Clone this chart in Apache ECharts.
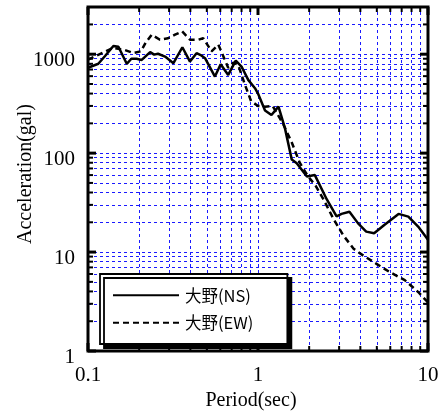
<!DOCTYPE html>
<html>
<head>
<meta charset="utf-8">
<script src="https://cdn.jsdelivr.net/npm/echarts@6/dist/echarts.min.js"></script>
<style>
  html, body { margin: 0; padding: 0; background: #fff; }
  #chart { width: 445px; height: 417px; }
</style>
</head>
<body>
<div id="chart"></div>
<script>
// Response spectra, Ono station (NS / EW components)
const nsPeriod = [0.100, 0.115, 0.126, 0.141, 0.151, 0.169, 0.180, 0.193, 0.207, 0.232, 0.245, 0.258, 0.284, 0.318, 0.359, 0.398, 0.435, 0.460, 0.488, 0.558, 0.603, 0.668, 0.740, 0.800, 0.876, 0.960, 1.00, 1.10, 1.20, 1.32, 1.44, 1.58, 1.69, 1.94, 2.16, 2.54, 2.90, 3.10, 3.45, 3.88, 4.33, 4.82, 5.53, 6.71, 7.66, 8.75, 10.0];
const nsAccel  = [730, 800, 960, 1210, 1190, 800, 900, 900, 875, 1050, 990, 1010, 946, 811, 1176, 842, 1024, 980, 911, 594, 791, 617, 861, 750, 550, 453, 400, 270, 243, 295, 179, 86, 79, 58, 60, 34, 23, 24.3, 25.6, 19.5, 16.1, 15.5, 18.8, 24.3, 22.8, 18.1, 13.3];

const ewPeriod = [0.100, 0.110, 0.141, 0.165, 0.185, 0.205, 0.218, 0.237, 0.265, 0.296, 0.325, 0.358, 0.398, 0.446, 0.476, 0.533, 0.584, 0.625, 0.668, 0.716, 0.765, 0.837, 0.910, 1.00, 1.10, 1.22, 1.41, 1.58, 1.76, 1.96, 2.18, 2.43, 2.78, 3.18, 3.65, 4.17, 4.98, 5.93, 7.30, 8.75, 10.0];
const ewAccel  = [880, 950, 1160, 1100, 1030, 1070, 1300, 1575, 1400, 1450, 1575, 1700, 1400, 1400, 1450, 1070, 1250, 955, 728, 820, 780, 494, 336, 300, 295, 300, 195, 128, 80, 59, 47, 34, 21.6, 14.7, 10.8, 9.2, 7.6, 6.3, 5.2, 3.95, 3.1];

const seriesNames = ['大野(NS)', '大野(EW)'];

// Axis ticks and labels
const xTickLabels = [0.1, 1, 10];
const yTickLabels = [1, 10, 100, 1000];
const xMinorTicks = [0.2, 0.3, 0.4, 0.5, 0.6, 0.7, 0.8, 0.9, 2, 3, 4, 5, 6, 7, 8, 9];
const yMinorTicks = [2, 3, 4, 5, 6, 7, 8, 9, 20, 30, 40, 50, 60, 70, 80, 90, 200, 300, 400, 500, 600, 700, 800, 900, 2000];
const xRange = [0.1, 10];
const yRange = [1, 3000];

const serif = 'Liberation Serif, Times New Roman, serif';
const gridBlue = '#1a1aff';

function pickLabel(list) {
  return function (v) {
    const hit = list.find(l => Math.abs(Math.log10(v) - Math.log10(l)) < 1e-6);
    return hit === undefined ? '' : String(hit);
  };
}

// grid lines at every decade and sub-decade value
const gridLines = []
  .concat(xTickLabels.concat(xMinorTicks).map(v => ({ xAxis: v })))
  .concat(yTickLabels.concat(yMinorTicks).map(v => ({ yAxis: v })));

// inward ticks on all four sides: [x, y, axis(0=x,1=y), major]
const tickData = []
  .concat(xTickLabels.map(v => [v, 1, 0, 1]))
  .concat(xMinorTicks.map(v => [v, 1, 0, 0]))
  .concat(yTickLabels.map(v => [1, v, 1, 1]))
  .concat(yMinorTicks.map(v => [1, v, 1, 0]));

function renderTick(params, api) {
  const cs = params.coordSys;
  const axis = api.value(2);
  const major = api.value(3) === 1;
  const len = major ? 8 : 5;
  const style = { stroke: '#000', lineWidth: major ? 3 : 2 };
  if (axis === 0) {
    const x = api.coord([api.value(0), yRange[0]])[0];
    return { type: 'group', children: [
      { type: 'line', shape: { x1: x, y1: cs.y + cs.height, x2: x, y2: cs.y + cs.height - len }, style },
      { type: 'line', shape: { x1: x, y1: cs.y, x2: x, y2: cs.y + len }, style }
    ]};
  }
  const y = api.coord([xRange[0], api.value(1)])[1];
  return { type: 'group', children: [
    { type: 'line', shape: { x1: cs.x, y1: y, x2: cs.x + len, y2: y }, style },
    { type: 'line', shape: { x1: cs.x + cs.width, y1: y, x2: cs.x + cs.width - len, y2: y }, style }
  ]};
}

const chart = echarts.init(document.getElementById('chart'), null, { renderer: 'canvas' });

chart.setOption({
  animation: false,
  backgroundColor: '#fff',
  grid: {
    left: 88, right: 17, top: 7, bottom: 66,
    outerBoundsMode: 'none',
    show: true, borderColor: '#000', borderWidth: 3, z: 10,
    backgroundColor: 'transparent'
  },
  xAxis: {
    type: 'log', logBase: 10, min: xRange[0], max: xRange[1],
    name: 'Period(sec)', nameLocation: 'middle', nameGap: 40,
    nameTextStyle: { fontFamily: serif, fontSize: 20, color: '#000', padding: [0, 14, 0, 0] },
    axisLine: { show: false }, axisTick: { show: false }, splitLine: { show: false },
    axisLabel: { formatter: pickLabel(xTickLabels), fontFamily: serif, fontSize: 21, color: '#000', margin: 14, showMinLabel: true, showMaxLabel: true }
  },
  yAxis: {
    type: 'log', logBase: 10, min: yRange[0], max: yRange[1],
    name: 'Acceleration(gal)', nameLocation: 'middle', nameGap: 52, nameMoveOverlap: false,
    nameTextStyle: { fontFamily: serif, fontSize: 20, color: '#000', padding: [0, 0, 0, 10] },
    axisLine: { show: false }, axisTick: { show: false }, splitLine: { show: false },
    axisLabel: { formatter: pickLabel(yTickLabels), fontFamily: serif, fontSize: 21, color: '#000', margin: 13, verticalAlign: 'top', lineHeight: 12, showMaxLabel: false }
  },
  legend: {
    data: seriesNames,
    orient: 'vertical', left: 100, top: 274,
    itemWidth: 66, itemHeight: 14, itemGap: 11,
    padding: [13, 34, 13, 12],
    backgroundColor: '#fff', borderColor: '#000', borderWidth: 1.8,
    shadowColor: '#000', shadowBlur: 0, shadowOffsetX: 4, shadowOffsetY: 4,
    itemStyle: { opacity: 0 },
    textStyle: { fontFamily: 'Noto Sans CJK JP', fontSize: 16.5, color: '#000', padding: [0, 0, 0, 1] },
    selectedMode: false
  },
  series: [
    {
      name: 'grid', type: 'line', data: [], silent: true, z: 1,
      markLine: {
        silent: true, symbol: 'none', z: 1, animation: false,
        label: { show: false },
        lineStyle: { color: gridBlue, width: 1, type: [3, 3] },
        data: gridLines
      }
    },
    {
      name: seriesNames[0], type: 'line', z: 5, symbol: 'none', smooth: false,
      data: nsPeriod.map((p, i) => [p, nsAccel[i]]),
      lineStyle: { color: '#000', width: 2.5, type: 'solid' },
      itemStyle: { color: '#000' }
    },
    {
      name: seriesNames[1], type: 'line', z: 5, symbol: 'none', smooth: false,
      data: ewPeriod.map((p, i) => [p, ewAccel[i]]),
      lineStyle: { color: '#000', width: 2.5, type: [6, 4] },
      itemStyle: { color: '#000' }
    },
    {
      name: 'ticks', type: 'custom', z: 11, silent: true, clip: false,
      renderItem: renderTick,
      data: tickData
    }
  ]
});
</script>
</body>
</html>
